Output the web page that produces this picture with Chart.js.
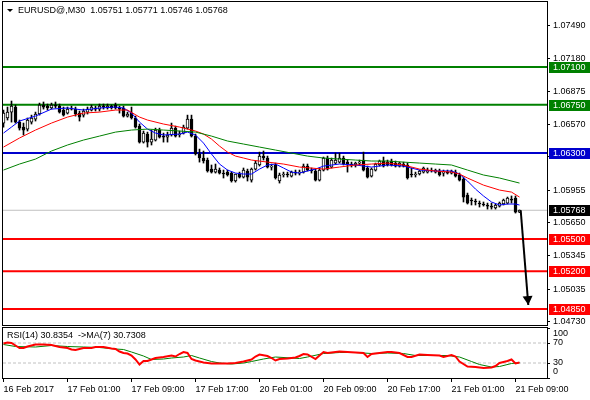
<!DOCTYPE html>
<html>
<head>
<meta charset="utf-8">
<script src="https://cdn.jsdelivr.net/npm/chart.js@4.4.1/dist/chart.umd.min.js"></script>
<style>
  html, body { margin: 0; padding: 0; background: #fff; }
  #wrap { position: relative; width: 590px; height: 400px; overflow: hidden; }
  canvas { position: absolute; left: 0; }
  #main { top: 0; }
  #rsi { top: 326px; }
</style>
</head>
<body>
<div id="wrap">
  <canvas id="main" width="590" height="326"></canvas>
  <canvas id="rsi" width="590" height="74"></canvas>
</div>
<script>
// =======================
// Data (EURUSD M30 candles)
// =======================
const tickIdx = [0, 16, 32, 48, 64, 80, 96, 112, 128];
const tickLabels = ['16 Feb 2017', '17 Feb 01:00', '17 Feb 09:00', '17 Feb 17:00', '20 Feb 01:00',
                    '20 Feb 09:00', '20 Feb 17:00', '21 Feb 01:00', '21 Feb 09:00'];
const priceTicks = [1.07490, 1.07180, 1.06875, 1.06570, 1.06265, 1.05955, 1.05650, 1.05345, 1.05035, 1.04730];

const open = [
  1.06579, 1.06626, 1.06681, 1.06728, 1.06588, 1.06542, 1.06523, 1.06588, 1.06616, 1.06663,
  1.06747, 1.06737, 1.06719, 1.06747, 1.06737, 1.06700, 1.06672, 1.06709, 1.06709, 1.06672,
  1.06653, 1.06681, 1.06700, 1.06719, 1.06709, 1.06737, 1.06719, 1.06737, 1.06747, 1.06719,
  1.06719, 1.06644, 1.06672, 1.06626, 1.06551, 1.06402, 1.06477, 1.06402, 1.06421, 1.06514,
  1.06458, 1.06449, 1.06468, 1.06532, 1.06468, 1.06486, 1.06532, 1.06616, 1.06458, 1.06291,
  1.06254, 1.06235, 1.06151, 1.06123, 1.06142, 1.06114, 1.06123, 1.06114, 1.06040, 1.06105,
  1.06077, 1.06133, 1.06049, 1.06151, 1.06189, 1.06272, 1.06254, 1.06170, 1.06189, 1.06040,
  1.06096, 1.06105, 1.06086, 1.06123, 1.06114, 1.06123, 1.06179, 1.06142, 1.06133, 1.06049,
  1.06142, 1.06254, 1.06170, 1.06207, 1.06216, 1.06254, 1.06216, 1.06198, 1.06189, 1.06207,
  1.06235, 1.06161, 1.06086, 1.06142, 1.06189, 1.06226, 1.06216, 1.06226, 1.06207, 1.06179,
  1.06198, 1.06189, 1.06105, 1.06096, 1.06105, 1.06123, 1.06123, 1.06142, 1.06123, 1.06133,
  1.06114, 1.06123, 1.06114, 1.06123, 1.06096, 1.06058, 1.05910, 1.05863, 1.05854, 1.05835,
  1.05826, 1.05817, 1.05807, 1.05789, 1.05807, 1.05826, 1.05835, 1.05872, 1.05882, 1.05751
];
const high = [
  1.06700, 1.06728, 1.06784, 1.06747, 1.06607, 1.06579, 1.06626, 1.06653, 1.06681, 1.06765,
  1.06775, 1.06756, 1.06765, 1.06775, 1.06756, 1.06728, 1.06728, 1.06737, 1.06728, 1.06691,
  1.06709, 1.06728, 1.06747, 1.06737, 1.06756, 1.06756, 1.06756, 1.06747, 1.06765, 1.06737,
  1.06737, 1.06681, 1.06728, 1.06644, 1.06570, 1.06505, 1.06495, 1.06514, 1.06532, 1.06532,
  1.06486, 1.06495, 1.06579, 1.06551, 1.06505, 1.06560, 1.06653, 1.06653, 1.06477, 1.06337,
  1.06319, 1.06254, 1.06189, 1.06198, 1.06161, 1.06142, 1.06142, 1.06123, 1.06105, 1.06123,
  1.06161, 1.06151, 1.06161, 1.06226, 1.06309, 1.06319, 1.06272, 1.06198, 1.06207, 1.06114,
  1.06123, 1.06123, 1.06133, 1.06142, 1.06142, 1.06198, 1.06198, 1.06161, 1.06151, 1.06161,
  1.06263, 1.06272, 1.06254, 1.06300, 1.06300, 1.06272, 1.06235, 1.06216, 1.06216, 1.06235,
  1.06309, 1.06179, 1.06161, 1.06207, 1.06235, 1.06263, 1.06235, 1.06244, 1.06226, 1.06216,
  1.06216, 1.06207, 1.06161, 1.06123, 1.06142, 1.06170, 1.06161, 1.06161, 1.06151, 1.06151,
  1.06142, 1.06142, 1.06142, 1.06142, 1.06114, 1.06077, 1.05928, 1.05882, 1.05872, 1.05854,
  1.05845, 1.05835, 1.05835, 1.05826, 1.05845, 1.05872, 1.05891, 1.05901, 1.05901, 1.05771
];
const low = [
  1.06542, 1.06607, 1.06588, 1.06579, 1.06514, 1.06468, 1.06505, 1.06570, 1.06598, 1.06653,
  1.06709, 1.06700, 1.06709, 1.06719, 1.06672, 1.06644, 1.06663, 1.06700, 1.06644, 1.06598,
  1.06635, 1.06663, 1.06691, 1.06691, 1.06691, 1.06709, 1.06709, 1.06709, 1.06709, 1.06672,
  1.06635, 1.06635, 1.06616, 1.06532, 1.06393, 1.06393, 1.06356, 1.06375, 1.06412, 1.06440,
  1.06402, 1.06402, 1.06458, 1.06449, 1.06449, 1.06477, 1.06523, 1.06449, 1.06282, 1.06216,
  1.06207, 1.06123, 1.06114, 1.06114, 1.06105, 1.06068, 1.06086, 1.06030, 1.06030, 1.06068,
  1.06068, 1.06040, 1.06030, 1.06142, 1.06179, 1.06235, 1.06161, 1.06142, 1.06058, 1.06021,
  1.06077, 1.06077, 1.06077, 1.06096, 1.06096, 1.06114, 1.06133, 1.06114, 1.06040, 1.06040,
  1.06133, 1.06142, 1.06161, 1.06198, 1.06207, 1.06189, 1.06123, 1.06170, 1.06170, 1.06189,
  1.06133, 1.06068, 1.06077, 1.06133, 1.06179, 1.06170, 1.06179, 1.06179, 1.06170, 1.06170,
  1.06170, 1.06058, 1.06077, 1.06077, 1.06096, 1.06114, 1.06114, 1.06123, 1.06114, 1.06086,
  1.06086, 1.06105, 1.06105, 1.06077, 1.06040, 1.05845, 1.05826, 1.05817, 1.05817, 1.05798,
  1.05807, 1.05779, 1.05779, 1.05779, 1.05798, 1.05817, 1.05826, 1.05835, 1.05742, 1.05746
];
const close = [
  1.06672, 1.06681, 1.06737, 1.06588, 1.06532, 1.06514, 1.06607, 1.06626, 1.06663, 1.06747,
  1.06728, 1.06719, 1.06747, 1.06737, 1.06681, 1.06653, 1.06709, 1.06719, 1.06663, 1.06635,
  1.06691, 1.06709, 1.06728, 1.06709, 1.06737, 1.06728, 1.06737, 1.06719, 1.06719, 1.06709,
  1.06644, 1.06663, 1.06626, 1.06542, 1.06402, 1.06486, 1.06402, 1.06430, 1.06514, 1.06449,
  1.06449, 1.06468, 1.06532, 1.06458, 1.06477, 1.06542, 1.06616, 1.06458, 1.06291, 1.06254,
  1.06226, 1.06133, 1.06123, 1.06151, 1.06114, 1.06105, 1.06096, 1.06040, 1.06105, 1.06077,
  1.06142, 1.06077, 1.06151, 1.06207, 1.06272, 1.06254, 1.06170, 1.06179, 1.06068, 1.06096,
  1.06105, 1.06096, 1.06123, 1.06114, 1.06123, 1.06179, 1.06142, 1.06133, 1.06049, 1.06142,
  1.06254, 1.06151, 1.06235, 1.06235, 1.06254, 1.06198, 1.06198, 1.06189, 1.06207, 1.06216,
  1.06142, 1.06077, 1.06151, 1.06198, 1.06226, 1.06179, 1.06189, 1.06189, 1.06179, 1.06207,
  1.06179, 1.06068, 1.06096, 1.06105, 1.06133, 1.06161, 1.06142, 1.06133, 1.06142, 1.06096,
  1.06123, 1.06114, 1.06133, 1.06086, 1.06049, 1.05891, 1.05835, 1.05854, 1.05845, 1.05826,
  1.05817, 1.05807, 1.05798, 1.05817, 1.05835, 1.05863, 1.05882, 1.05863, 1.05751, 1.05768
];

// moving averages, sampled (candle index, price)
const maFastAt = [0, 2, 4, 8, 12, 16, 20, 24, 28, 30, 32, 34, 36, 38, 40, 44, 46, 48, 50, 52, 54, 56, 58, 60,
                  62, 64, 66, 68, 70, 72, 74, 76, 78, 80, 84, 88, 92, 96, 100, 104, 108, 112, 114, 116, 118,
                  120, 122, 124, 126, 128, 129];
const maFast = [1.06486, 1.06542, 1.06598, 1.06644, 1.06709, 1.06719, 1.06700, 1.06719, 1.06728, 1.06719,
                1.06672, 1.06588, 1.06523, 1.06486, 1.06468, 1.06477, 1.06495, 1.06468, 1.06393, 1.06291,
                1.06198, 1.06142, 1.06114, 1.06105, 1.06105, 1.06151, 1.06189, 1.06198, 1.06161, 1.06123,
                1.06114, 1.06133, 1.06151, 1.06179, 1.06198, 1.06189, 1.06170, 1.06189, 1.06179, 1.06142,
                1.06133, 1.06133, 1.06105, 1.06040, 1.05965, 1.05901, 1.05845, 1.05817, 1.05826, 1.05826,
                1.05817];
const maMidAt = [0, 4, 8, 12, 16, 20, 24, 28, 31, 34, 36, 40, 44, 48, 50, 52, 54, 56, 58, 60, 62, 66, 70, 74,
                 80, 84, 88, 92, 96, 100, 104, 108, 112, 114, 116, 120, 124, 127, 129];
const maMid = [1.06356, 1.06440, 1.06514, 1.06579, 1.06635, 1.06672, 1.06681, 1.06700, 1.06700, 1.06635,
               1.06607, 1.06570, 1.06542, 1.06505, 1.06477, 1.06430, 1.06365, 1.06309, 1.06272, 1.06254,
               1.06235, 1.06216, 1.06198, 1.06170, 1.06151, 1.06170, 1.06189, 1.06198, 1.06207, 1.06189,
               1.06151, 1.06133, 1.06123, 1.06105, 1.06068, 1.06002, 1.05956, 1.05937, 1.05891];
const maSlowAt = [0, 4, 8, 12, 16, 20, 24, 28, 32, 36, 40, 44, 48, 52, 56, 60, 64, 68, 72, 76, 80, 84, 88, 92,
                  96, 100, 104, 108, 112, 116, 120, 124, 129];
const maSlow = [1.06142, 1.06198, 1.06244, 1.06319, 1.06375, 1.06421, 1.06458, 1.06495, 1.06514, 1.06523,
                1.06514, 1.06505, 1.06495, 1.06458, 1.06412, 1.06384, 1.06356, 1.06328, 1.06300, 1.06272,
                1.06254, 1.06244, 1.06235, 1.06226, 1.06226, 1.06216, 1.06207, 1.06198, 1.06189, 1.06142,
                1.06096, 1.06068, 1.06021];

// support / resistance levels
const greenLevels = [1.07100, 1.06750];
const blueLevels = [1.06300];
const redLevels = [1.05500, 1.05200, 1.04850];
const lastPrice = 1.05768;
const arrowFrom = [129.3, 1.05768];
const arrowTo = [131.2, 1.04887];

// RSI(14) and its MA(7), sampled (candle index, value)
const rsiAt = [0, 1, 2, 3, 4, 5, 6, 8, 10, 12, 14, 16, 17, 18, 19, 20, 22, 23, 25, 27, 28, 29, 30, 31, 32,
               33, 34, 35, 36, 37, 38, 40, 42, 43, 44, 45, 46, 47, 48, 49, 50, 52, 56, 58, 60, 62, 63, 64,
               66, 67, 68, 69, 71, 73, 74, 75, 76, 78, 79, 80, 81, 82, 84, 86, 88, 90, 91, 92, 94, 96, 97,
               99, 101, 102, 104, 106, 109, 110, 112, 113, 114, 116, 118, 120, 122, 123, 124, 126, 127, 128, 129];
const rsi = [69, 71, 70, 65, 60, 60, 63, 67, 67, 66, 62, 60, 57, 56, 58, 60, 60, 62, 62, 59, 58, 53, 50, 49, 45,
             37, 27, 34, 34, 37, 40, 42, 45, 43, 48, 52, 50, 38, 35, 33, 31, 29, 29, 30, 33, 37, 43, 47,
             44, 40, 35, 38, 39, 41, 44, 48, 47, 38, 45, 52, 50, 51, 53, 52, 51, 50, 42, 48, 50, 52, 52,
             50, 42, 42, 47, 46, 45, 42, 46, 43, 33, 23, 22, 20, 21, 24, 30, 34, 37, 29, 30.8];
const rsiMaAt = [0, 3, 8, 12, 16, 20, 24, 28, 30, 32, 35, 37, 40, 42, 45, 47, 49, 52, 54, 57, 60, 62, 65, 68,
                 72, 74, 76, 80, 84, 88, 92, 96, 100, 103, 107, 111, 114, 117, 119, 122, 124, 127, 129];
const rsiMa = [67, 63, 62, 65, 63, 62, 61, 58, 57, 52, 44, 37, 38, 40, 42, 45, 40, 33, 30, 28, 30, 33, 38, 42,
               40, 39, 42, 49, 51, 51, 49, 50, 49, 45, 45, 45, 42, 33, 27, 22, 23, 29, 30.7];
const rsiLevels = [70, 30];
const rsiTicks = [100, 70, 30, 0];

// =======================
// Look
// =======================
const FONT = '9px "Liberation Sans", Arial, sans-serif';
const GREEN = '#008000', BLUE = '#0000CD', RED = '#FF0000';
const X_MIN = -0.125, X_MAX = 135.875;
Chart.defaults.font.family = '"Liberation Sans", Arial, sans-serif';
Chart.defaults.font.size = 9;
Chart.defaults.color = '#000';

const pairs = (xs, ys) => xs.map((x, i) => ({ x, y: ys[i] }));
const flat = v => [{ x: X_MIN, y: v }, { x: X_MAX, y: v }];
const levelSet = (v, color, width) => ({
    type: 'line', data: flat(v), borderColor: color, borderWidth: width,
    pointRadius: 0, order: 10
});
const maSet = (xs, ys, color) => ({
    type: 'line', data: pairs(xs, ys), borderColor: color, borderWidth: 1,
    pointRadius: 0, tension: 0, order: 2
});

// frame round the plot area, like the terminal draws it
const framePlugin = {
    id: 'frame',
    afterDraw(chart) {
        const { ctx, chartArea: a } = chart;
        ctx.save();
        ctx.strokeStyle = '#000';
        ctx.lineWidth = 1;
        ctx.strokeRect(a.left - 0.5, a.top - 0.5, a.right - a.left + 1, a.bottom - a.top + 1);
        ctx.restore();
    }
};

// coloured price tags on the right axis + title + arrow head
const mainDecor = {
    id: 'mainDecor',
    afterDraw(chart) {
        const ctx = chart.ctx, y = chart.scales.y;
        const tags = [
            ...greenLevels.map(v => [v, GREEN]),
            ...blueLevels.map(v => [v, BLUE]),
            [lastPrice, '#000'],
            ...redLevels.map(v => [v, RED])
        ];
        ctx.save();
        ctx.font = FONT;
        ctx.textBaseline = 'middle';
        ctx.textAlign = 'left';
        tags.forEach(([v, c]) => {
            const py = Math.round(y.getPixelForValue(v));
            ctx.fillStyle = c;
            ctx.fillRect(y.left + 2, py - 5, 43, 11);
            ctx.fillStyle = '#fff';
            ctx.fillText(v.toFixed(5), y.left + 6, py + 0.5);
        });

        // title line
        ctx.fillStyle = '#000';
        ctx.beginPath();
        ctx.moveTo(7, 9); ctx.lineTo(13, 9); ctx.lineTo(10, 12); ctx.closePath();
        ctx.fill();
        ctx.fillText('EURUSD@,M30  1.05751 1.05771 1.05746 1.05768', 18, 10.5);

        // arrow head at the end of the forecast line
        const pts = chart.getDatasetMeta(chart.data.datasets.length - 1).data;
        if (pts.length === 2) {
            const p0 = pts[0], p1 = pts[1];
            const ang = Math.atan2(p1.y - p0.y, p1.x - p0.x);
            const len = 9, half = 5;
            const bx = p1.x - len * Math.cos(ang), by = p1.y - len * Math.sin(ang);
            ctx.beginPath();
            ctx.moveTo(p1.x, p1.y);
            ctx.lineTo(bx + half * Math.sin(ang), by - half * Math.cos(ang));
            ctx.lineTo(bx - half * Math.sin(ang), by + half * Math.cos(ang));
            ctx.closePath();
            ctx.fill();
        }
        ctx.restore();
    }
};

// =======================
// Main price chart
// =======================
const idx = open.map((_, i) => i);
new Chart(document.getElementById('main'), {
    type: 'bar',
    data: {
        datasets: [
            ...greenLevels.map(v => levelSet(v, GREEN, 2)),
            ...blueLevels.map(v => levelSet(v, BLUE, 2)),
            ...redLevels.map(v => levelSet(v, RED, 2)),
            { ...levelSet(lastPrice, '#C0C0C0', 1), order: 9 },
            {
                // wicks
                type: 'bar', data: idx.map(i => ({ x: i, y: [low[i], high[i]] })),
                backgroundColor: '#000', borderWidth: 0, barThickness: 1, grouped: false, order: 5
            },
            {
                // bodies
                type: 'bar', data: idx.map(i => ({ x: i, y: [open[i], close[i]] })),
                backgroundColor: idx.map(i => close[i] >= open[i] ? '#fff' : '#000'),
                borderColor: '#000', borderWidth: 1, borderSkipped: false,
                barThickness: 3, minBarLength: 1, grouped: false, order: 4
            },
            maSet(maSlowAt, maSlow, GREEN),
            maSet(maMidAt, maMid, RED),
            maSet(maFastAt, maFast, '#0000FF'),
            {
                type: 'line', data: [{ x: arrowFrom[0], y: arrowFrom[1] }, { x: arrowTo[0], y: arrowTo[1] }],
                borderColor: '#000', borderWidth: 2, pointRadius: 0, order: 1
            }
        ]
    },
    options: {
        responsive: false,
        animation: false,
        devicePixelRatio: 1,
        layout: { padding: { left: 3, top: 2, right: 0, bottom: 1 } },
        plugins: { legend: { display: false }, tooltip: { enabled: false } },
        scales: {
            x: { type: 'linear', min: X_MIN, max: X_MAX, offset: false, display: false },
            y: {
                type: 'linear', position: 'right', min: 1.04701, max: 1.07705,
                afterBuildTicks: s => { s.ticks = priceTicks.map(v => ({ value: v })); },
                afterFit: s => { s.width = 43; s.paddingTop = 0; s.paddingBottom = 0; },
                grid: { drawOnChartArea: false, tickLength: 3, tickColor: '#000' },
                border: { display: false },
                ticks: { padding: 3, font: { size: 9 }, color: '#000', callback: v => v.toFixed(5) }
            }
        }
    },
    plugins: [framePlugin, mainDecor]
});

// =======================
// RSI sub-window
// =======================
const rsiDecor = {
    id: 'rsiDecor',
    afterDraw(chart) {
        const ctx = chart.ctx, y = chart.scales.y;
        const shift = [6, 0, 0, -6];
        ctx.save();
        ctx.font = FONT;
        ctx.fillStyle = '#000';
        ctx.textBaseline = 'middle';
        ctx.textAlign = 'left';
        rsiTicks.forEach((v, k) => ctx.fillText(String(v), y.left + 6, y.getPixelForValue(v) + shift[k]));
        ctx.fillText('RSI(14) 30.8354  ->MA(7) 30.7308', 7, 10);
        ctx.restore();
    }
};

new Chart(document.getElementById('rsi'), {
    type: 'line',
    data: {
        datasets: [
            ...rsiLevels.map(v => ({
                data: flat(v), borderColor: '#C0C0C0', borderWidth: 1, borderDash: [3, 2],
                pointRadius: 0, order: 5
            })),
            { data: pairs(rsiMaAt, rsiMa), borderColor: GREEN, borderWidth: 1, pointRadius: 0, order: 2 },
            { data: pairs(rsiAt, rsi), borderColor: RED, borderWidth: 2, pointRadius: 0, order: 1 }
        ]
    },
    options: {
        responsive: false,
        animation: false,
        devicePixelRatio: 1,
        layout: { padding: { left: 3, top: 2, right: 0, bottom: 0 } },
        plugins: { legend: { display: false }, tooltip: { enabled: false } },
        scales: {
            x: {
                type: 'linear', min: X_MIN, max: X_MAX, offset: false,
                afterBuildTicks: s => { s.ticks = tickIdx.map(v => ({ value: v })); },
                afterFit: s => { s.height = 22; s.paddingLeft = 0; s.paddingRight = 0; },
                grid: { drawOnChartArea: false, tickLength: 4, tickColor: '#000' },
                border: { display: false },
                ticks: {
                    align: 'start', maxRotation: 0, autoSkip: false, padding: 2,
                    font: { size: 9 }, color: '#000',
                    callback: v => tickLabels[tickIdx.indexOf(v)]
                }
            },
            y: {
                type: 'linear', position: 'right', min: 0, max: 100,
                afterBuildTicks: s => { s.ticks = rsiTicks.map(v => ({ value: v })); },
                afterFit: s => { s.width = 43; s.paddingTop = 0; s.paddingBottom = 0; },
                grid: { drawOnChartArea: false, tickLength: 3, tickColor: '#000' },
                border: { display: false },
                ticks: { display: false }
            }
        }
    },
    plugins: [framePlugin, rsiDecor]
});
</script>
</body>
</html>
